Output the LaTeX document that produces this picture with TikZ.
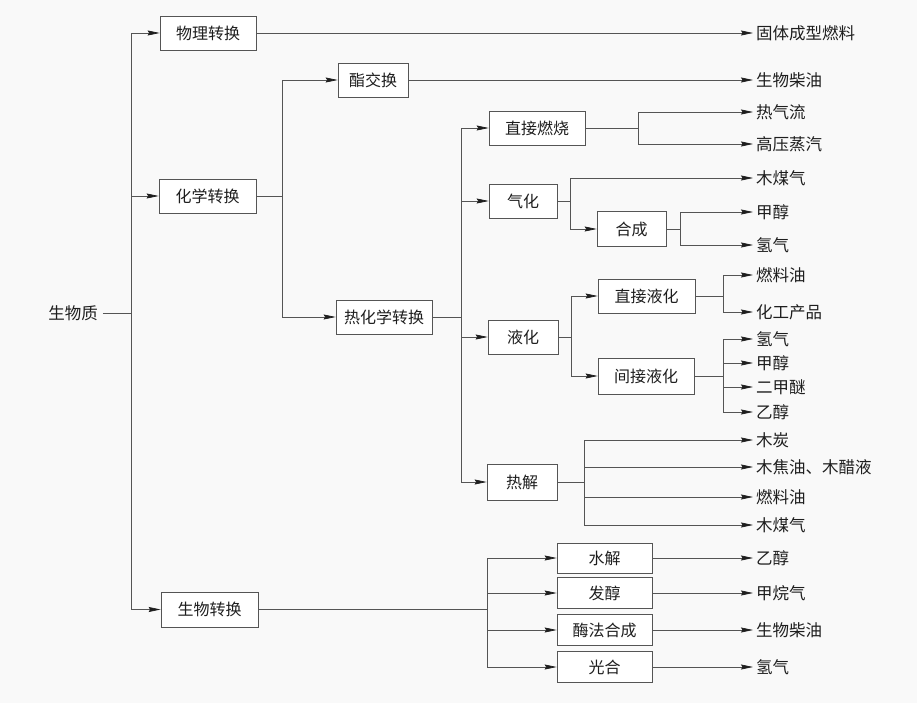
\documentclass[tikz,border=0pt]{standalone}
\usepackage{fontspec}
\newfontfamily\cjk{Noto Sans CJK SC}
\usetikzlibrary{arrows.meta}
\definecolor{ln}{RGB}{85,85,85}
\definecolor{tx}{RGB}{30,30,30}
\definecolor{bg}{RGB}{249,249,249}
\tikzset{
  ln/.style={draw=ln, line width=0.7pt},
  arr/.style={ln, -{Stealth[length=12pt,width=5pt,inset=1.5pt,color=tx]}},
  box/.style={draw=ln, line width=0.7pt, fill=white, minimum height=34pt, inner sep=0pt, font=\cjk\fontsize{16}{17}\selectfont, text=tx},
  outt/.style={anchor=west, inner sep=3pt, font=\cjk\fontsize{16.5}{17}\selectfont, text=tx},
}
\begin{document}
\begin{tikzpicture}[x=1pt,y=-1pt]
\fill[bg] (0,0) rectangle (917,703);
\useasboundingbox (0,0) rectangle (917,703);

% root
\node[outt, anchor=center, inner sep=5pt] (bio) at (73,313) {生物质};
\coordinate (t0) at (131,313);

% level 1
\node[box, minimum width=96pt] (wl) at (208,33) {物理转换};
\node[box, minimum width=97pt] (hx) at (207.5,196) {化学转换};
\node[box, minimum width=97pt, minimum height=35pt] (sw) at (209.5,609.5) {生物转换};

% level 2
\node[box, minimum width=70pt] (zj) at (373,80) {酯交换};
\node[box, minimum width=96pt] (rhx) at (384,317) {热化学转换};
\coordinate (c1) at (282,196);

% level 3 thermochemical
\coordinate (c2) at (461,317);
\node[box, minimum width=96pt] (zjrs) at (537,128) {直接燃烧};
\node[box, minimum width=68pt] (qh) at (523,201) {气化};
\node[box, minimum width=70pt] (yh) at (523,337) {液化};
\node[box, minimum width=70pt, minimum height=36pt] (rj) at (522,482) {热解};

\node[box, minimum width=69pt, minimum height=35pt] (hc) at (631.5,229) {合成};
\node[box, minimum width=97pt] (zjyh) at (646.5,296) {直接液化};
\node[box, minimum width=96pt, minimum height=36pt] (jjyh) at (646,376) {间接液化};

% biological
\coordinate (c9) at (487,609.5);
\node[box, minimum width=95pt, minimum height=30pt] (sj) at (604.5,558) {水解};
\node[box, minimum width=95pt, minimum height=31pt] (fj) at (604.5,593) {发醇};
\node[box, minimum width=95pt, minimum height=31pt] (mf) at (604.5,630) {酶法合成};
\node[box, minimum width=95pt, minimum height=31pt] (gh) at (604.5,667) {光合};

% outputs
\node[outt] (o1) at (753,33) {固体成型燃料};
\node[outt] (o2) at (753,80) {生物柴油};
\node[outt] (o3) at (753,112) {热气流};
\node[outt] (o4) at (753,144) {高压蒸汽};
\node[outt] (o5) at (753,178) {木煤气};
\node[outt] (o6) at (753,212) {甲醇};
\node[outt] (o7) at (753,245) {氢气};
\node[outt] (o8) at (753,275) {燃料油};
\node[outt] (o9) at (753,312) {化工产品};
\node[outt] (o10) at (753,339) {氢气};
\node[outt] (o11) at (753,363) {甲醇};
\node[outt] (o12) at (753,387) {二甲醚};
\node[outt] (o13) at (753,412) {乙醇};
\node[outt] (o14) at (753,440) {木炭};
\node[outt] (o15) at (753,467) {木焦油、木醋液};
\node[outt] (o16) at (753,497) {燃料油};
\node[outt] (o17) at (753,525) {木煤气};
\node[outt] (o18) at (753,558) {乙醇};
\node[outt] (o19) at (753,593) {甲烷气};
\node[outt] (o20) at (753,630) {生物柴油};
\node[outt] (o21) at (753,667) {氢气};

% junctions
\coordinate (c3) at (570,201);
\coordinate (c4) at (680,229);
\coordinate (c5) at (571,337);
\coordinate (c6) at (723,296);
\coordinate (c7) at (723,376);
\coordinate (c8) at (584,482);
\coordinate (b1) at (638,128);

% connectors
\draw[ln] (bio) -- (t0);
\draw[arr] (t0) |- (wl.west);
\draw[arr] (t0) |- (hx.west);
\draw[arr] (t0) |- (sw.west);

\draw[arr] (wl.east) -- (o1.west);

\draw[ln] (hx.east) -- (c1);
\draw[arr] (c1) |- (zj.west);
\draw[arr] (c1) |- (rhx.west);
\draw[arr] (zj.east) -- (o2.west);

\draw[ln] (rhx.east) -- (c2);
\draw[arr] (c2) |- (zjrs.west);
\draw[arr] (c2) |- (qh.west);
\draw[arr] (c2) |- (yh.west);
\draw[arr] (c2) |- (rj.west);

\draw[ln] (zjrs.east) -- (b1);
\draw[arr] (b1) |- (o3.west);
\draw[arr] (b1) |- (o4.west);

\draw[ln] (qh.east) -- (c3);
\draw[arr] (c3) |- (o5.west);
\draw[arr] (c3) |- (hc.west);

\draw[ln] (hc.east) -- (c4);
\draw[arr] (c4) |- (o6.west);
\draw[arr] (c4) |- (o7.west);

\draw[ln] (yh.east) -- (c5);
\draw[arr] (c5) |- (zjyh.west);
\draw[arr] (c5) |- (jjyh.west);

\draw[ln] (zjyh.east) -- (c6);
\draw[arr] (c6) |- (o8.west);
\draw[arr] (c6) |- (o9.west);

\draw[ln] (jjyh.east) -- (c7);
\draw[arr] (c7) |- (o10.west);
\draw[arr] (c7) |- (o11.west);
\draw[arr] (c7) |- (o12.west);
\draw[arr] (c7) |- (o13.west);

\draw[ln] (rj.east) -- (c8);
\draw[arr] (c8) |- (o14.west);
\draw[arr] (c8) |- (o15.west);
\draw[arr] (c8) |- (o16.west);
\draw[arr] (c8) |- (o17.west);

\draw[ln] (sw.east) -- (c9);
\draw[arr] (c9) |- (sj.west);
\draw[arr] (c9) |- (fj.west);
\draw[arr] (c9) |- (mf.west);
\draw[arr] (c9) |- (gh.west);

\draw[arr] (sj.east) -- (o18.west);
\draw[arr] (fj.east) -- (o19.west);
\draw[arr] (mf.east) -- (o20.west);
\draw[arr] (gh.east) -- (o21.west);
\end{tikzpicture}
\end{document}
